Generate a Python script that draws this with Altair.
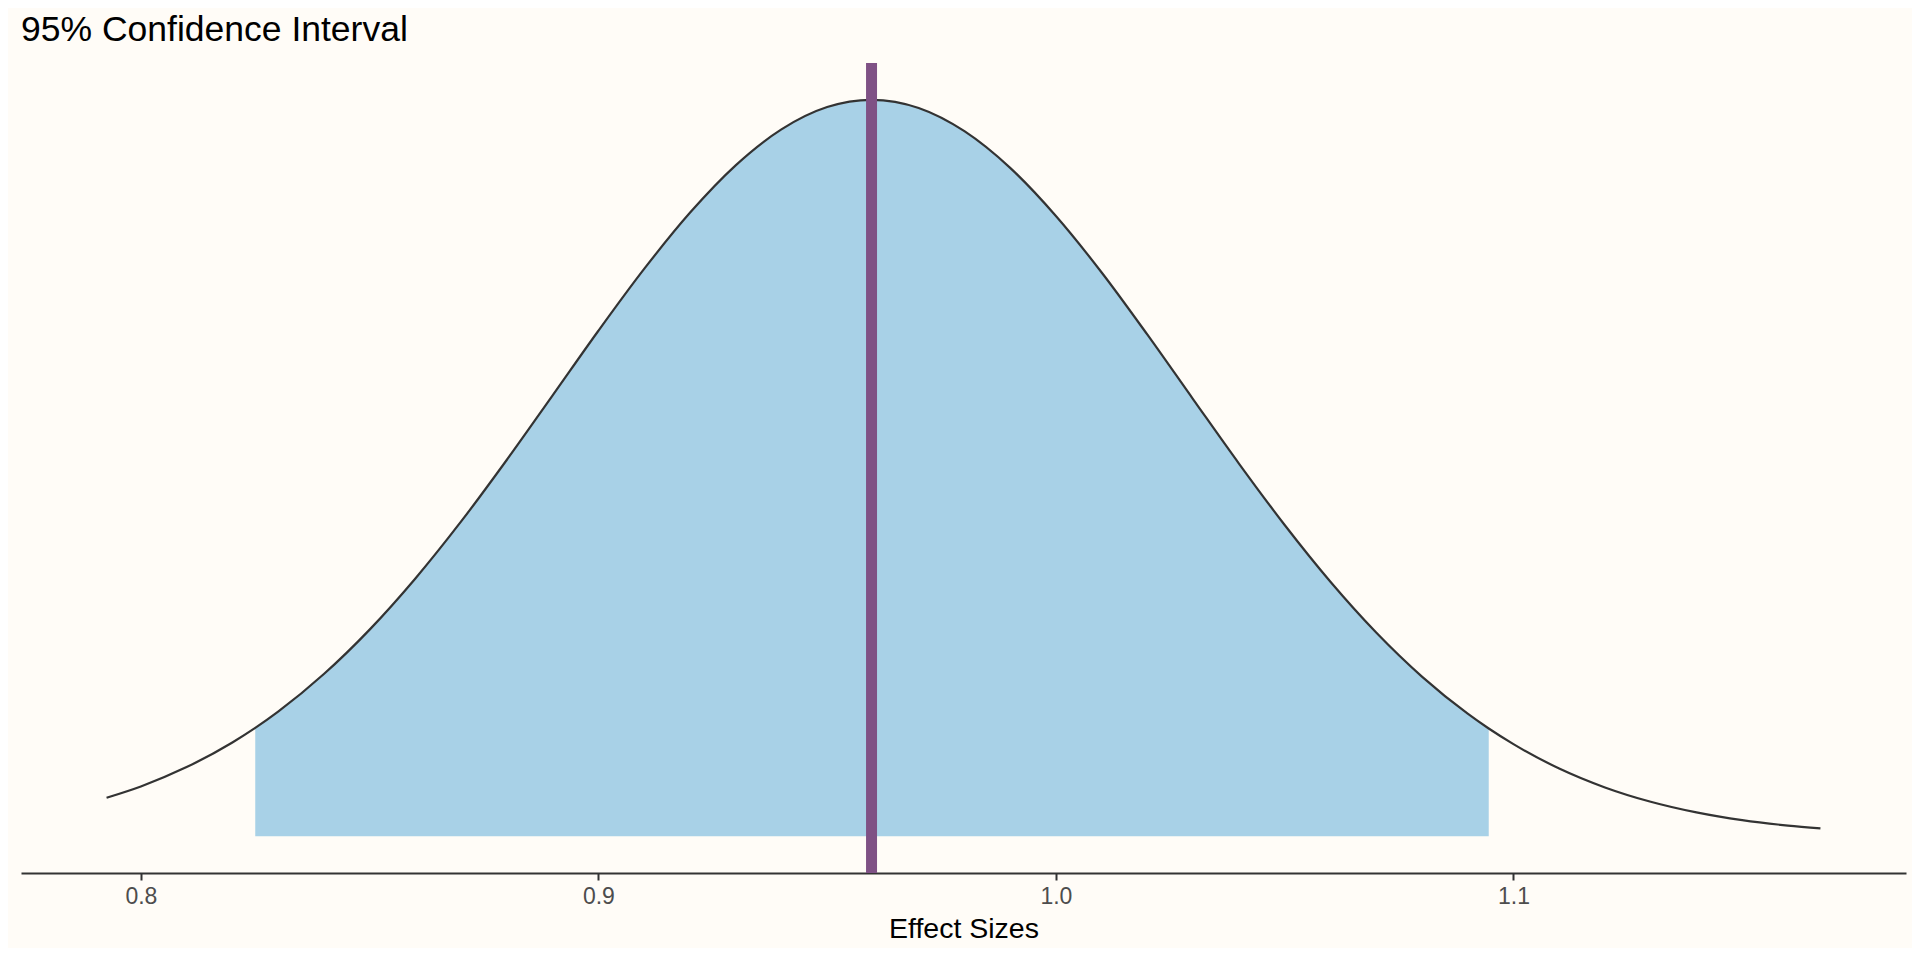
import altair as alt
import pandas as pd

# Density curve (effect size vs. density)
xs = [0.7925, 0.80, 0.81, 0.82, 0.825, 0.83, 0.84, 0.85, 0.86, 0.87, 0.88, 0.89,
      0.90, 0.91, 0.92, 0.93, 0.94, 0.95, 0.9597, 0.97, 0.98, 0.99, 1.00, 1.01,
      1.02, 1.03, 1.04, 1.05, 1.06, 1.07, 1.08, 1.09, 1.0946, 1.10, 1.11, 1.12,
      1.13, 1.14, 1.15, 1.16, 1.1671]
dens = [0.303, 0.392, 0.544, 0.738, 0.853, 0.981, 1.277, 1.627, 2.030, 2.479, 2.965, 3.472,
        3.981, 4.468, 4.910, 5.284, 5.567, 5.743, 5.800, 5.736, 5.553, 5.264, 4.885, 4.440,
        3.950, 3.441, 2.935, 2.451, 2.004, 1.604, 1.257, 0.965, 0.848, 0.725, 0.533, 0.384,
        0.271, 0.187, 0.126, 0.0838, 0.0617]

ci_low = 0.825
ci_high = 1.0946
estimate = 0.9597
x_ticks = [0.8, 0.9, 1.0, 1.1]
x_domain = [0.7738, 1.1858]
y_domain = [-0.29, 6.09]

df = pd.DataFrame({"x": xs, "y": dens, "base": [0.0] * len(xs)})
df_ci = df[(df["x"] >= ci_low) & (df["x"] <= ci_high)]
df_est = pd.DataFrame({"x": [estimate], "ylo": [y_domain[0]], "yhi": [y_domain[1]]})

xscale = alt.Scale(domain=x_domain, nice=False, zero=False)
yscale = alt.Scale(domain=y_domain, nice=False, zero=False)

xaxis = alt.Axis(values=x_ticks, format=".1f", title="Effect Sizes",
                 grid=False, domainColor="#333333", domainWidth=2,
                 tickColor="#333333", tickWidth=2, tickSize=7,
                 labelFont="Liberation Sans", labelFontSize=23, labelColor="#4d4d4d",
                 labelPadding=5,
                 titleFont="Liberation Sans", titleFontSize=28.5, titleColor="#000000",
                 titleFontWeight="normal", titlePadding=6)

area = alt.Chart(df_ci).mark_area(color="#a8d1e7", opacity=1, interpolate="monotone").encode(
    x=alt.X("x:Q", scale=xscale, axis=xaxis),
    y=alt.Y("y:Q", scale=yscale, axis=None),
    y2="base:Q",
)

line = alt.Chart(df).mark_line(color="#333333", strokeWidth=2.2, interpolate="monotone").encode(
    x=alt.X("x:Q", scale=xscale),
    y=alt.Y("y:Q", scale=yscale, axis=None),
)

rule = alt.Chart(df_est).mark_rule(color="#7f5185", strokeWidth=11).encode(
    x=alt.X("x:Q", scale=xscale),
    y=alt.Y("ylo:Q", scale=yscale, axis=None),
    y2="yhi:Q",
)

chart = alt.layer(area, line, rule).properties(
    width=1885,
    height=810,
    background="#fffcf7",
    padding={"left": 13, "top": 55, "right": 6, "bottom": 75},
    autosize=alt.AutoSizeParams(type="none"),
    title=alt.TitleParams(
        "95% Confidence Interval",
        anchor="start",
        frame="group",
        font="Liberation Sans",
        fontSize=35.5,
        fontWeight="normal",
        color="#000000",
        offset=9,
    ),
).configure_view(stroke=None)

chart.save("out.html", embed_options={"renderer": "svg", "actions": False})
